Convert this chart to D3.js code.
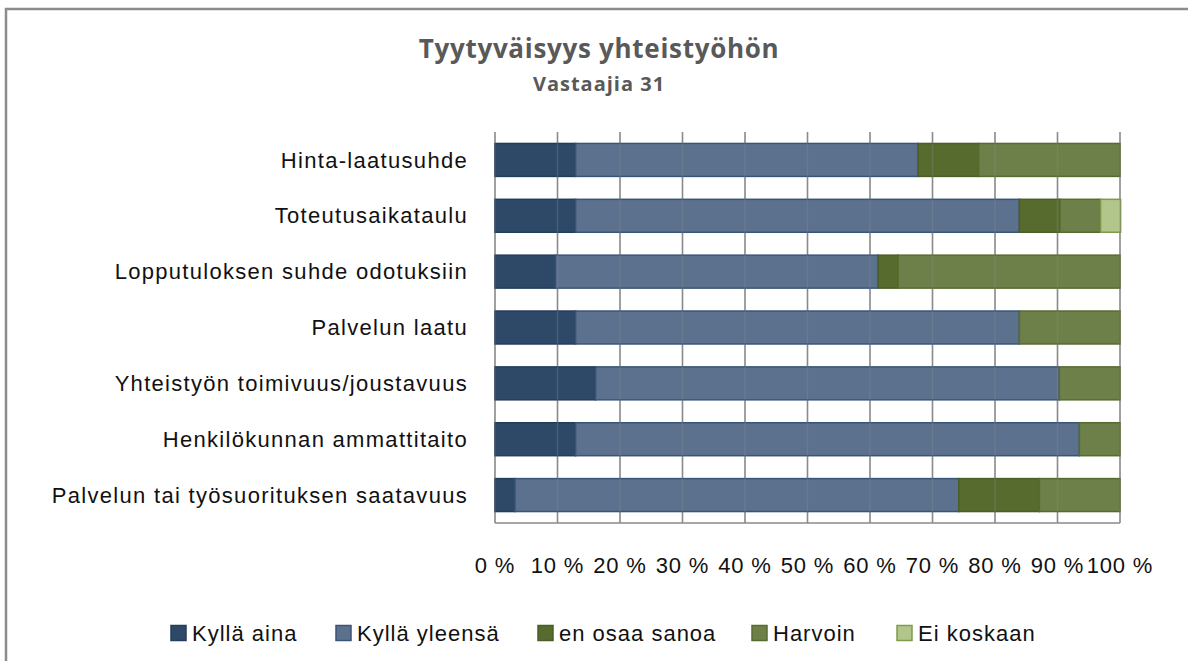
<!DOCTYPE html>
<html><head><meta charset="utf-8">
<script src="https://cdn.jsdelivr.net/npm/d3@7"></script>
<style>body{margin:0;background:#fff}svg{display:block}</style>
</head><body>
<script>
const categories = ["Hinta-laatusuhde","Toteutusaikataulu","Lopputuloksen suhde odotuksiin","Palvelun laatu","Yhteistyön toimivuus/joustavuus","Henkilökunnan ammattitaito","Palvelun tai työsuorituksen saatavuus"];
const seriesNames = ["Kyllä aina","Kyllä yleensä","en osaa sanoa","Harvoin","Ei koskaan"];
const kyllaAina    = [12.9, 12.9,  9.7, 12.9, 16.1, 12.9,  3.2];
const kyllaYleensa = [54.8, 71.0, 51.6, 71.0, 74.2, 80.6, 71.0];
const enOsaaSanoa  = [ 9.7,  6.5,  3.2,  0.0,  0.0,  0.0, 12.9];
const harvoin      = [22.6,  6.5, 35.5, 16.1,  9.7,  6.5, 12.9];
const eiKoskaan    = [ 0.0,  3.2,  0.0,  0.0,  0.0,  0.0,  0.0];
const tickValues = [0,10,20,30,40,50,60,70,80,90,100];
const tickLabels = ["0 %","10 %","20 %","30 %","40 %","50 %","60 %","70 %","80 %","90 %","100 %"];
const titleText = "Tyytyväisyys yhteistyöhön";
const subtitleText = "Vastaajia 31";

const fills   = ["#2e4968","#5c718e","#586b2f","#6e8049","#b2c58a"];
const strokes = ["#243d5c","#3a5478","#4a5e25","#586b2f","#7f9a4f"];

const W = 1188, H = 661;
const svg = d3.select("body").append("svg").attr("width", W).attr("height", H);
svg.append("rect").attr("x",6).attr("y",9).attr("width",1300).attr("height",720)
  .attr("fill","#fff").attr("stroke","#8c8c8c").attr("stroke-width",2.5);

const m = {left:495, right:1120, top:132, bottom:523};
const x = d3.scaleLinear().domain([0,100]).range([m.left, m.right]);
const y = d3.scaleBand().domain(categories).range([m.top, m.bottom]).paddingInner(0.41).paddingOuter(0.205);

const font = "'Liberation Sans',Arial,sans-serif";

function grid(layer, op){
  layer.selectAll("line.grid").data(tickValues).join("line").attr("class","grid")
    .attr("x1", d=>x(d)).attr("x2", d=>x(d)).attr("y1", m.top).attr("y2", m.bottom)
    .attr("stroke","#8a8a8a").attr("stroke-width",1.5).attr("stroke-opacity",op);
}
grid(svg.append("g"), 1);
svg.append("line").attr("x1",m.left).attr("x2",m.right).attr("y1",m.bottom).attr("y2",m.bottom)
  .attr("stroke","#8a8a8a").attr("stroke-width",1.5);

// stacked data
const rows = categories.map((c,i)=>({cat:c, vals:[kyllaAina[i],kyllaYleensa[i],enOsaaSanoa[i],harvoin[i],eiKoskaan[i]]}));
const segs = [];
rows.forEach(r=>{ let acc=0; r.vals.forEach((v,k)=>{ if(v>0) segs.push({cat:r.cat,k,x0:acc,x1:acc+v}); acc+=v; }); });
svg.append("g").selectAll("rect").data(segs).join("rect")
  .attr("x", d=>x(d.x0)).attr("width", d=>x(d.x1)-x(d.x0))
  .attr("y", d=>y(d.cat)).attr("height", y.bandwidth())
  .attr("fill", d=>fills[d.k])
  .attr("stroke", d=>strokes[d.k]).attr("stroke-width",1.5);
grid(svg.append("g"), 0.3);

// category labels
svg.append("g").selectAll("text").data(categories).join("text")
  .attr("x", 468).attr("y", d=>y(d)+y.bandwidth()/2).attr("dy","0.35em")
  .attr("text-anchor","end").attr("font-family",font).attr("font-size",22)
  .attr("letter-spacing",1.3).attr("fill","#111").text(d=>d);

// x tick labels
svg.append("g").selectAll("text").data(tickValues).join("text")
  .attr("x", d=>x(d)).attr("y", 565).attr("dy","0.35em")
  .attr("text-anchor","middle").attr("font-family",font).attr("font-size",22)
  .attr("letter-spacing",0.8).attr("fill","#111").text((d,i)=>tickLabels[i]);

// title
svg.append("text").attr("x",599).attr("y",58).attr("text-anchor","middle")
  .attr("font-family","'Open Sans',sans-serif").attr("font-weight","bold").attr("font-size",26)
  .attr("letter-spacing",0.7).attr("fill","#595959").text(titleText);
svg.append("text").attr("x",599).attr("y",91).attr("text-anchor","middle")
  .attr("font-family","'Open Sans',sans-serif").attr("font-weight","bold").attr("font-size",20)
  .attr("letter-spacing",1.0).attr("fill","#595959").text(subtitleText);

// legend
const legX = [171, 336, 538, 752, 897];
const leg = svg.append("g").selectAll("g").data(seriesNames).join("g")
  .attr("transform",(d,i)=>`translate(${legX[i]},633)`);
leg.append("rect").attr("x",0).attr("y",-7.5).attr("width",15).attr("height",15)
  .attr("fill",(d,i)=>fills[i]).attr("stroke",(d,i)=>strokes[i]).attr("stroke-width",1.5);
leg.append("text").attr("x",21).attr("y",0).attr("dy","0.35em")
  .attr("font-family",font).attr("font-size",22).attr("letter-spacing",1.0)
  .attr("fill","#111").text(d=>d);
</script>
</body></html>
